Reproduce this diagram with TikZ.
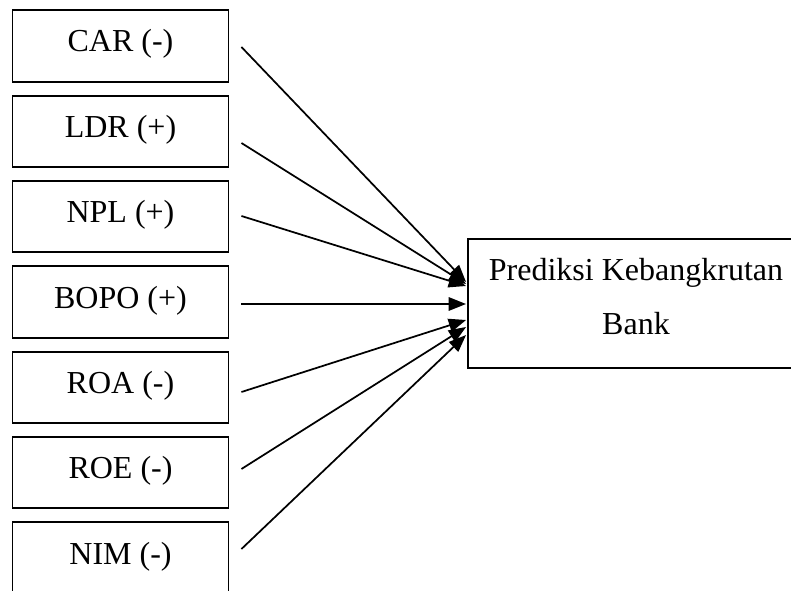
\documentclass[tikz,border=0pt]{standalone}
\usepackage{fontspec}
\setmainfont{Liberation Serif}
\usepackage{tikz}
\usetikzlibrary{positioning, arrows.meta, calc}

\begin{document}
\begin{tikzpicture}[
  x=0.75pt, y=-0.75pt,
  var/.style={draw=black, line width=1.4pt, inner sep=0pt,
              minimum width=162pt, minimum height=53.5pt,
              text height=18pt, text depth=9pt,
              font=\fontsize{24pt}{41pt}\selectfont},
  dep/.style={draw=black, line width=1.4pt, inner sep=0pt,
              minimum width=252pt, minimum height=96.5pt},
  deptxt/.style={align=center, inner sep=0pt,
                 font=\fontsize{24pt}{41pt}\selectfont},
  link/.style={-{Triangle[length=13pt, width=10pt]}, line width=1.3pt}]
  \useasboundingbox (0,0) rectangle (791,591);
  \node[var] (car)  at (120.5, 46)    {CAR (-)};
  \node[var] (ldr)  at (120.5, 131.3) {LDR (+)};
  \node[var] (npl)  at (120.5, 216.7) {NPL (+)};
  \node[var] (bopo) at (120.5, 302)   {BOPO (+)};
  \node[var] (roa)  at (120.5, 387.3) {ROA (-)};
  \node[var] (roe)  at (120.5, 472.7) {ROE (-)};
  \node[var] (nim)  at (120.5, 558)   {NIM (-)};
  \node[dep] (pred) at (636, 303.5) {};
  \node[deptxt] (predtxt) at ($(pred.center)+(0,-7)$) {Prediksi Kebangkrutan\\Bank};
  % arrows into the outcome box
  \draw[link] ($(car.east)+(12,1)$)     -- ($(pred.west)+(-1,-21.5)$);
  \draw[link] ($(ldr.east)+(12,11.7)$)  -- ($(pred.west)+(-1,-19.5)$);
  \draw[link] ($(npl.east)+(12,-0.7)$)  -- ($(pred.west)+(-1,-17.5)$);
  \draw[link] ($(bopo.east)+(12,2)$)    -- ($(pred.west)+(-1,0.5)$);
  \draw[link] ($(roa.east)+(12,4.7)$)   -- ($(pred.west)+(-1,16.5)$);
  \draw[link] ($(roe.east)+(12,-3.7)$)  -- ($(pred.west)+(-1,23.5)$);
  \draw[link] ($(nim.east)+(12,-9)$)    -- ($(pred.west)+(-1,31.5)$);
\end{tikzpicture}
\end{document}
